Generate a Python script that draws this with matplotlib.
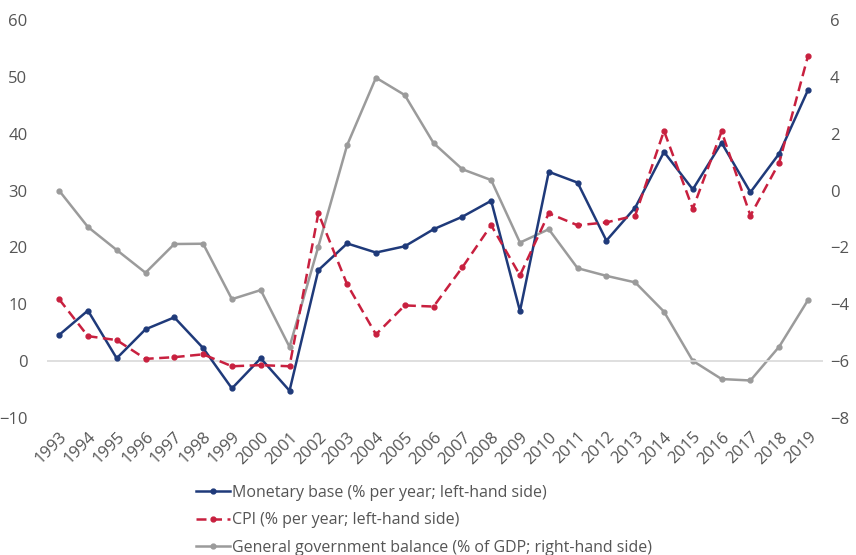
import matplotlib
matplotlib.use('Agg')
import matplotlib.pyplot as plt

years = list(range(1993, 2020))
monetary_base = [4.6, 8.9, 0.5, 5.6, 7.7, 2.3, -4.8, 0.5, -5.2, 16.0, 20.7, 19.1, 20.2,
                 23.2, 25.4, 28.2, 8.8, 33.3, 31.4, 21.2, 27.0, 36.8, 30.2, 38.4, 29.7,
                 36.5, 47.7]
cpi = [10.9, 4.4, 3.7, 0.4, 0.7, 1.2, -0.9, -0.7, -0.9, 26.0, 13.5, 4.7, 9.8,
       9.6, 16.5, 23.9, 15.1, 26.0, 23.9, 24.4, 25.6, 40.5, 26.8, 40.4, 25.6,
       34.9, 53.7]
gov_balance = [0.0, -1.28, -2.09, -2.89, -1.88, -1.87, -3.82, -3.5, -5.5, -1.97, 1.6,
               3.97, 3.36, 1.67, 0.75, 0.37, -1.83, -1.36, -2.73, -3.0, -3.23, -4.26,
               -5.99, -6.63, -6.68, -5.49, -3.85]

left_ticks = [-10, 0, 10, 20, 30, 40, 50, 60]
right_ticks = [-8, -6, -4, -2, 0, 2, 4, 6]

navy = '#1f3a7a'
red = '#c8203f'
grey = '#9b9b9b'
txt = '#555555'

plt.rcParams['font.family'] = ['Open Sans', 'DejaVu Sans']

fig = plt.figure(figsize=(8.56, 5.55), dpi=100)
ax = fig.add_axes([47/856, 1-418/555, (823-47)/856, 398/555])
ax2 = ax.twinx()
ax.set_zorder(ax2.get_zorder() + 1)
ax.patch.set_visible(False)

ax.axhline(0, color='#d9d9d9', lw=1.2, zorder=0)

l3, = ax2.plot(years, gov_balance, color=grey, lw=1.8, marker='o', ms=3.5,
               label='General government balance (% of GDP; right-hand side)')
l1, = ax.plot(years, monetary_base, color=navy, lw=1.8, marker='o', ms=3.5,
              label='Monetary base (% per year; left-hand side)', zorder=3)
l2, = ax.plot(years, cpi, color=red, lw=1.8, marker='o', ms=3.5, ls=(0, (4, 2.2)),
              label='CPI (% per year; left-hand side)', zorder=4)

ax.set_xlim(1992.58, 2019.52)
ax.set_ylim(-10, 60)
ax2.set_ylim(-8, 6)
ax.set_yticks(left_ticks)
ax2.set_yticks(right_ticks)
ax.set_xticks(years)
ax.set_xticklabels([str(y) for y in years], rotation=45, ha='right',
                   rotation_mode='anchor')

for a in (ax, ax2):
    for s in a.spines.values():
        s.set_visible(False)
    a.tick_params(length=0, colors=txt, labelsize=12)
ax.tick_params(axis='y', pad=14)
ax.tick_params(axis='x', pad=8)
ax2.tick_params(axis='y', pad=5)

fig.legend(handles=[l1, l2, l3], loc='upper left', bbox_to_anchor=(196/856, 1-485/555),
           frameon=False, fontsize=11.5, labelcolor=txt, handlelength=2.1,
           handletextpad=0.15, labelspacing=0.72, borderaxespad=0, borderpad=0)

fig.savefig('out.png', dpi=100)
